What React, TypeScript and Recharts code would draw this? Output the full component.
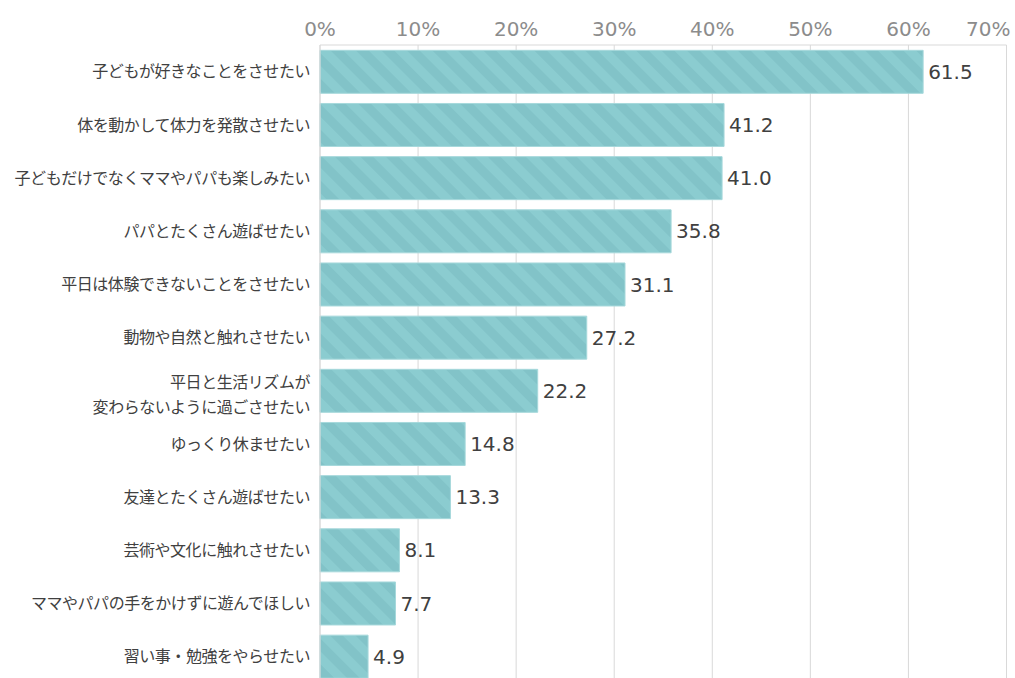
import { BarChart, Bar, XAxis, YAxis, CartesianGrid, LabelList } from "recharts";

const categories = [
  "子どもが好きなことをさせたい",
  "体を動かして体力を発散させたい",
  "子どもだけでなくママやパパも楽しみたい",
  "パパとたくさん遊ばせたい",
  "平日は体験できないことをさせたい",
  "動物や自然と触れさせたい",
  "平日と生活リズムが\n変わらないように過ごさせたい",
  "ゆっくり休ませたい",
  "友達とたくさん遊ばせたい",
  "芸術や文化に触れさせたい",
  "ママやパパの手をかけずに遊んでほしい",
  "習い事・勉強をやらせたい",
];

const values = [61.5, 41.2, 41.0, 35.8, 31.1, 27.2, 22.2, 14.8, 13.3, 8.1, 7.7, 4.9];

const xTicks = [0, 10, 20, 30, 40, 50, 60, 70];

const data = categories.map((name, i) => ({ name, value: values[i] }));

function CategoryTick(props: any) {
  const { x, y, payload } = props;
  const lines = String(payload.value).split("\n");
  const lh = 25;
  const start = lines.length > 1 ? -((lines.length - 1) * lh) / 2 + 4 : 0;
  return (
    <text
      x={x}
      y={y}
      textAnchor="end"
      fill="#404040"
      fontSize={16}
      fontFamily="'Noto Sans CJK JP', sans-serif"
      letterSpacing={-0.45}
    >
      {lines.map((l, i) => (
        <tspan key={i} x={x} y={y + start + i * lh} dy="0.36em">
          {l}
        </tspan>
      ))}
    </text>
  );
}

function PercentTick(props: any) {
  const { x, y, payload } = props;
  const last = payload.value === xTicks[xTicks.length - 1];
  return (
    <text
      x={last ? x + 4 : x}
      y={y}
      textAnchor={last ? "end" : "middle"}
      fill="#8c8c8c"
      fontSize={20}
      fontFamily="'DejaVu Sans', sans-serif"
    >
      {`${payload.value}%`}
    </text>
  );
}

export default function App() {
  return (
    <div style={{ position: "absolute", left: 0, top: 0, width: 1015, height: 678, overflow: "hidden", background: "#fff" }}>
      <BarChart
        width={1015}
        height={683}
        data={data}
        layout="vertical"
        margin={{ top: 0, right: 8.5, bottom: 0, left: 0 }}
        barCategoryGap="10%"
      >
        <defs>
          <pattern id="stripes" width="18" height="18" patternUnits="userSpaceOnUse" patternTransform="rotate(-45)">
            <rect x="0" y="0" width="18" height="18" fill="#8BCCD0" />
            <rect x="0" y="0" width="9" height="18" fill="#82C3C8" />
          </pattern>
        </defs>
        <CartesianGrid horizontal={false} stroke="#d9d9d9" />
        <XAxis
          type="number"
          orientation="top"
          domain={[0, 70]}
          ticks={xTicks}
          height={45}
          axisLine={{ stroke: "#d9d9d9" }}
          tickLine={false}
          tick={(p: any) => <PercentTick {...p} y={36} />}
          interval={0}
        />
        <YAxis
          type="category"
          dataKey="name"
          width={320}
          axisLine={{ stroke: "#d9d9d9" }}
          tickLine={false}
          tick={<CategoryTick />}
          tickMargin={4}
          interval={0}
        />
        <Bar dataKey="value" fill="url(#stripes)" stroke="#a6d8db" strokeWidth={1} isAnimationActive={false}>
          <LabelList
            dataKey="value"
            position="right"
            offset={5}
            formatter={(v: any) => Number(v).toFixed(1)}
            fill="#404040"
            fontSize={20}
            fontFamily="'DejaVu Sans', sans-serif"
          />
        </Bar>
      </BarChart>
    </div>
  );
}
